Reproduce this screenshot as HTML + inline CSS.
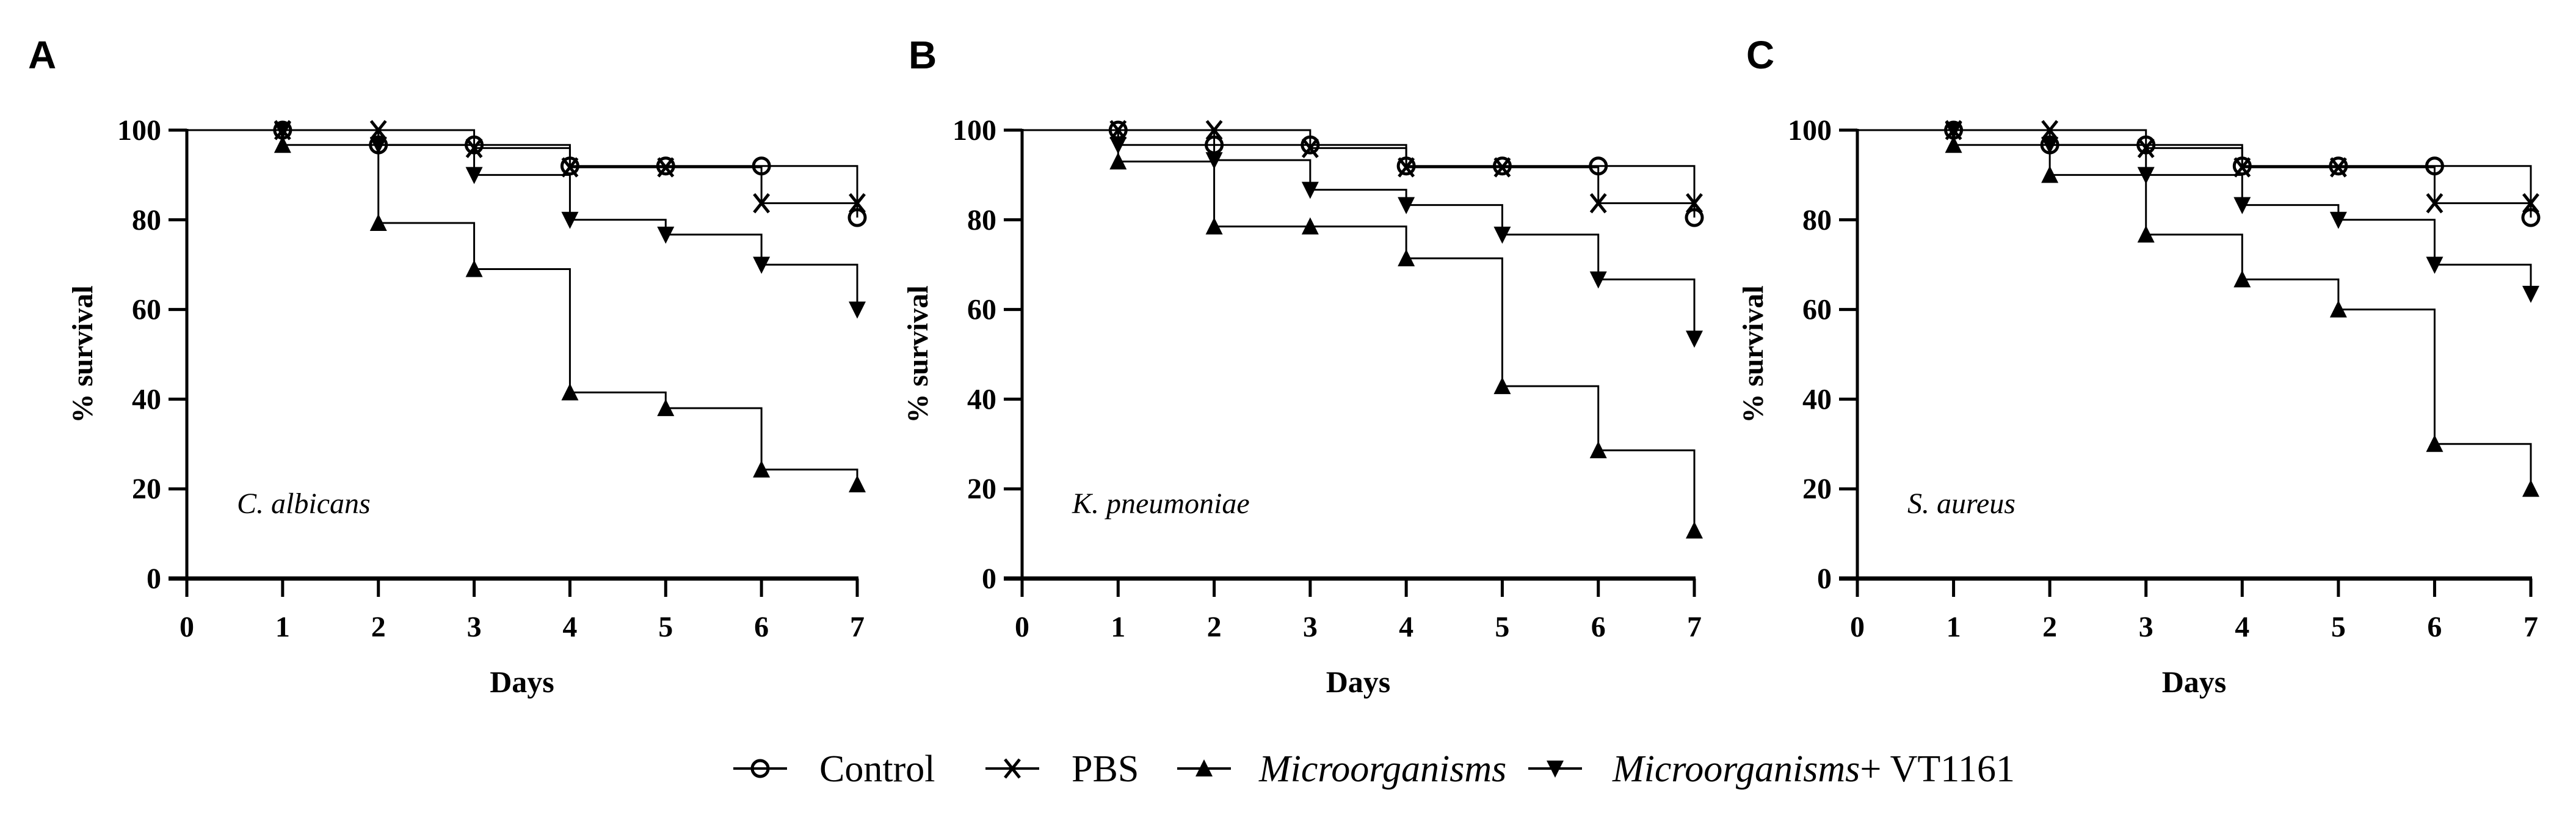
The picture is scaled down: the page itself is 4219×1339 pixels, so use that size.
<!DOCTYPE html>
<html><head><meta charset="utf-8"><style>
html,body{margin:0;padding:0;background:#fff;}
svg{display:block;}
</style></head><body>
<svg id="fig" width="4219" height="1339" viewBox="0 0 4219 1339" xmlns="http://www.w3.org/2000/svg"></svg>
<script>
const days = [0,1,2,3,4,5,6,7];
const yTicks = [0,20,40,60,80,100];
const panelLetters = ["A","B","C"];
const species = ["C. albicans","K. pneumoniae","S. aureus"];
const seriesNames = ["Control","PBS","Microorganisms","Microorganisms+ VT1161"];
// values per day 0..7
const controlA = [100,100,96.7,96.7,92,92,92,80.5];
const pbsA     = [100,100,100,96,91.7,91.7,83.7,83.7];
const microA   = [100,96.7,79.3,69,41.5,38,24.3,21];
const microVtA = [100,100,96.7,90,80,76.7,70,60];
const controlB = [100,100,96.7,96.7,92,92,92,80.5];
const pbsB     = [100,100,100,96,91.7,91.7,83.7,83.7];
const microB   = [100,93,78.5,78.5,71.4,42.9,28.6,10.7];
const microVtB = [100,96.7,93.3,86.7,83.3,76.7,66.7,53.5];
const controlC = [100,100,96.7,96.7,92,92,92,80.5];
const pbsC     = [100,100,100,96,91.7,91.7,83.7,83.7];
const microC   = [100,96.7,90,76.7,66.7,60,30,20];
const microVtC = [100,100,96.7,90,83.3,80,70,63.5];

const panels = [
  {x0:306, x1:1404, lx:46, series:[controlA,pbsA,microA,microVtA]},
  {x0:1674, x1:2775, lx:1488, series:[controlB,pbsB,microB,microVtB]},
  {x0:3042, x1:4145, lx:2860, series:[controlC,pbsC,microC,microVtC]}
];
const Y0=947, Y100=213;
const NS="http://www.w3.org/2000/svg";
const svg=document.getElementById('fig');
function el(tag,attrs,parent,text){const e=document.createElementNS(NS,tag);for(const k in attrs)e.setAttribute(k,attrs[k]);if(text!==undefined)e.textContent=text;(parent||svg).appendChild(e);return e;}
const yScale=v=>Y0-(v/100)*(Y0-Y100);
const markerKinds=["circle","cross","up","down"];

function drawMarker(kind,cx,cy,g){
  let m;
  if(kind==="circle"){m=el('circle',{cx:cx,cy:cy,r:13,fill:'none',stroke:'#000','stroke-width':5},g);}
  else if(kind==="cross"){m=el('path',{d:`M${cx-12} ${cy-15}L${cx+12} ${cy+15}M${cx+12} ${cy-15}L${cx-12} ${cy+15}`,stroke:'#000','stroke-width':5,fill:'none'},g);}
  else if(kind==="up"){m=el('path',{d:`M${cx} ${cy-15}L${cx+14} ${cy+13}L${cx-14} ${cy+13}Z`,fill:'#000'},g);}
  else {m=el('path',{d:`M${cx-14} ${cy-13}L${cx+14} ${cy-13}L${cx} ${cy+15}Z`,fill:'#000'},g);}
  return m;
}

panels.forEach((p,pi)=>{
  const xScale=d=>p.x0+(d/7)*(p.x1-p.x0);
  const g=el('g',{});
  
  
  const L=el('text',{x:p.lx,y:112,'font-family':'Liberation Sans, sans-serif','font-weight':'bold','font-size':64},g,panelLetters[pi]);
  
  
  p.series.forEach((vals,si)=>{
    const sg=el('g',{},g);
    
    
    let d=`M${xScale(0)} ${yScale(vals[0])}`;
    for(let i=1;i<vals.length;i++){d+=`H${xScale(i)}V${yScale(vals[i])}`;}
    el('path',{d:d,fill:'none',stroke:'#000','stroke-width':3},sg);
    for(let i=1;i<vals.length;i++){
      const m=drawMarker(markerKinds[si],xScale(days[i]),yScale(vals[i]),sg);
      
      
    }
  });
  const ax=el('g',{},g);
  
  
  el('line',{x1:p.x0,y1:Y100-2,x2:p.x0,y2:Y0,stroke:'#000','stroke-width':5},ax);
  el('line',{x1:p.x0-30,y1:Y0,x2:p.x1+2,y2:Y0,stroke:'#000','stroke-width':7},ax);
  yTicks.forEach(t=>{
    const y=yScale(t);
    el('line',{x1:p.x0-30,y1:y,x2:p.x0,y2:y,stroke:'#000','stroke-width':5},ax);
    const tl=el('text',{x:p.x0-42,y:y+16,'text-anchor':'end','font-family':'Liberation Serif, serif','font-weight':'bold','font-size':48},ax,String(t));
    
    
  });
  days.forEach(dd=>{
    const x=xScale(dd);
    el('line',{x1:x,y1:Y0,x2:x,y2:Y0+30,stroke:'#000','stroke-width':5},ax);
    const tl=el('text',{x:x,y:1042,'text-anchor':'middle','font-family':'Liberation Serif, serif','font-weight':'bold','font-size':48},ax,String(dd));
    
    
  });
  const xt=el('text',{x:(p.x0+p.x1)/2,y:1133,'text-anchor':'middle','font-family':'Liberation Serif, serif','font-weight':'bold','font-size':50},g,'Days');
  
  
  const yt=el('text',{x:0,y:0,'text-anchor':'middle','font-family':'Liberation Serif, serif','font-weight':'bold','font-size':48,transform:`translate(${p.x0-155},${(Y0+Y100)/2}) rotate(-90)`},g,'% survival');
  
  
  const sp=el('text',{x:p.x0+82,y:840,'font-family':'Liberation Serif, serif','font-style':'italic','font-size':48},g,species[pi]);
  
  
});

const legend=el('g',{});


const legMarkX=[1245,1658,1972,2547];
const legTextX=[1342,1755,2062,2641];
const legY=1258;
seriesNames.forEach((n,i)=>{
  const lg=el('g',{},legend);
  
  
  el('line',{x1:legMarkX[i]-44,y1:legY,x2:legMarkX[i]+44,y2:legY,stroke:'#000','stroke-width':4},lg);
  drawMarker(markerKinds[i],legMarkX[i],legY,lg);
  const t=el('text',{x:legTextX[i],y:1279,'font-family':'Liberation Serif, serif','font-size':62},lg);
  if(i===0||i===1){t.textContent=n;}
  else{
    el('tspan',{'font-style':'italic'},t,'Microorganisms');
    if(i===3){el('tspan',{},t,'+ VT1161');}
  }
});
</script>
</body></html>
